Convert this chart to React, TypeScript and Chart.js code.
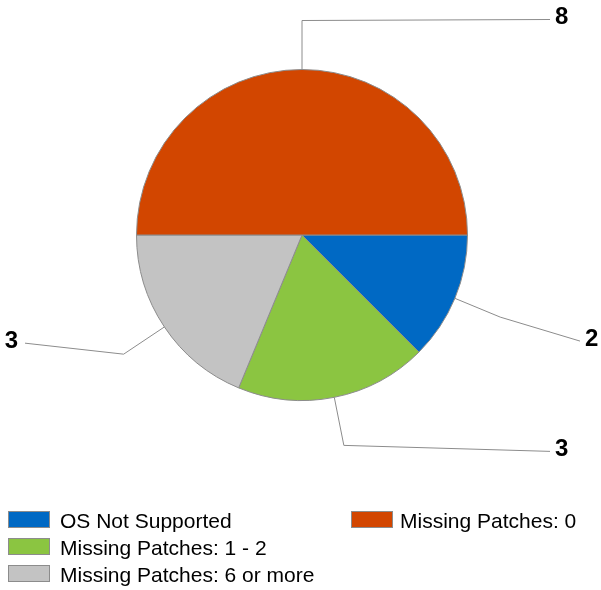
import React, { useEffect, useRef } from 'react';
import { Chart, registerables } from 'chart.js';

Chart.register(...registerables);

const categories = ['OS Not Supported', 'Missing Patches: 1 - 2', 'Missing Patches: 6 or more', 'Missing Patches: 0'];
const values = [2, 3, 3, 8];
const colors = ['#0069C4', '#8BC541', '#C3C3C3', '#D24600'];

const FONT = '"Liberation Sans", Arial, sans-serif';

const leaderPlugin = {
  id: 'leaders',
  afterDatasetsDraw(chart: any, _args: any, opts: any) {
    const ctx = chart.ctx;
    const meta = chart.getDatasetMeta(0);
    ctx.save();
    meta.data.forEach((arc: any, i: number) => {
      const { x, y, startAngle, endAngle, outerRadius } = arc.getProps(
        ['x', 'y', 'startAngle', 'endAngle', 'outerRadius'],
        true
      );
      const cfg = opts.labels[i];
      const mid = (startAngle + endAngle) / 2;
      const x0 = x + Math.cos(mid) * outerRadius;
      const y0 = y + Math.sin(mid) * outerRadius;
      const r1 = outerRadius + opts.elbow;
      const x1 = x + Math.cos(mid) * r1;
      const y1 = y + Math.sin(mid) * r1;
      const x2 = cfg.side === 'right' ? chart.width - cfg.edge : cfg.edge;
      const y2 = y1 + cfg.dy;
      ctx.strokeStyle = '#8C8C8C';
      ctx.lineWidth = 1;
      ctx.beginPath();
      ctx.moveTo(x0, y0);
      ctx.lineTo(x1, y1);
      ctx.lineTo(x2, y2);
      ctx.stroke();
      ctx.fillStyle = '#000';
      ctx.font = 'bold 24px ' + FONT;
      ctx.textBaseline = 'middle';
      ctx.textAlign = cfg.side === 'right' ? 'left' : 'right';
      ctx.fillText(String(values[i]), cfg.side === 'right' ? x2 + 5 : x2 - 7, y2 - 2);
    });
    ctx.restore();
  },
};

const legendPlugin = {
  id: 'gridLegend',
  afterDraw(chart: any, _args: any, opts: any) {
    const ctx = chart.ctx;
    ctx.save();
    ctx.font = '21px ' + FONT;
    ctx.textBaseline = 'alphabetic';
    ctx.textAlign = 'left';
    categories.forEach((label, i) => {
      const col = i < opts.perColumn ? 0 : 1;
      const row = i < opts.perColumn ? i : i - opts.perColumn;
      const bx = opts.colX[col];
      const by = opts.top + row * opts.rowGap;
      ctx.fillStyle = colors[i];
      ctx.fillRect(bx, by, opts.boxW, opts.boxH);
      ctx.strokeStyle = '#8C8C8C';
      ctx.lineWidth = 1;
      ctx.strokeRect(bx + 0.5, by + 0.5, opts.boxW - 1, opts.boxH - 1);
      ctx.fillStyle = '#000';
      ctx.fillText(label, bx + opts.boxW + opts.textGap[col], by + opts.boxH);
    });
    ctx.restore();
  },
};

export default function App() {
  const ref = useRef<HTMLCanvasElement | null>(null);
  useEffect(() => {
    document.body.style.margin = '0';
    const canvas = ref.current;
    if (!canvas) return;
    const chart = new Chart(canvas, {
      type: 'pie',
      data: {
        labels: categories,
        datasets: [
          {
            data: values,
            backgroundColor: colors,
            borderColor: '#8C8C8C',
            borderWidth: 1,
          },
        ],
      },
      options: {
        responsive: false,
        animation: false,
        devicePixelRatio: 1,
        rotation: 90,
        layout: { padding: { left: 136, right: 133, top: 69, bottom: 189 } },
        plugins: {
          legend: { display: false },
          tooltip: { enabled: false },
          leaders: {
            elbow: 49,
            labels: [
              { side: 'right', edge: 21, dy: 24 },
              { side: 'right', edge: 51, dy: 6 },
              { side: 'left', edge: 25, dy: -11 },
              { side: 'right', edge: 51, dy: -1 },
            ],
          },
          gridLegend: {
            perColumn: 3,
            colX: [8, 351],
            top: 511,
            rowGap: 27,
            boxW: 42,
            boxH: 17,
            textGap: [10, 7],
          },
        } as any,
      },
      plugins: [leaderPlugin, legendPlugin],
    });
    return () => chart.destroy();
  }, []);
  return <canvas ref={ref} width={601} height={590} style={{ display: 'block' }} />;
}
